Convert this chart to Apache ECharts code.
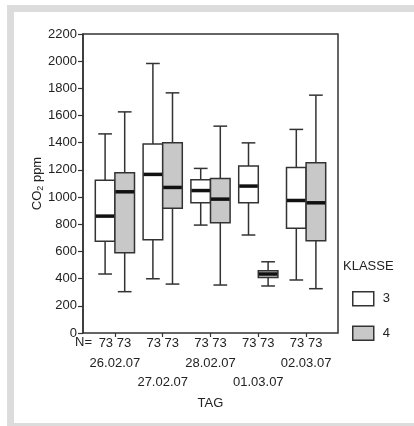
<!DOCTYPE html>
<html>
<head>
<meta charset="utf-8">
<script src="https://cdn.jsdelivr.net/npm/echarts@6/dist/echarts.min.js"></script>
<style>
html,body{margin:0;padding:0;background:#fff;}
#c{width:414px;height:426px;}
</style>
</head>
<body>
<div id="c"></div>
<script>
const categories = ['26.02.07','27.02.07','28.02.07','01.03.07','02.03.07'];
const countsK3 = [73,73,73,73,73];
const countsK4 = [73,73,73,73,73];
// [min, Q1, median, Q3, max]
const klasse3 = [
  [434, 676, 860, 1123, 1465],
  [399, 686, 1167, 1390, 1983],
  [794, 958, 1048, 1128, 1211],
  [721, 958, 1081, 1228, 1399],
  [390, 770, 975, 1218, 1498]
];
const klasse4 = [
  [304, 590, 1039, 1179, 1627],
  [360, 917, 1071, 1399, 1767],
  [353, 811, 985, 1137, 1522],
  [346, 409, 434, 458, 524],
  [326, 679, 958, 1252, 1750]
];
const yTicks = {min: 0, max: 2200, interval: 200};

const FONT = 'Liberation Sans, Arial, sans-serif';
const LINE = '#333';
const TXT = '#222';

function makeRender(side) {
  return function (params, api) {
    const cat = api.value(0);
    const band = api.size([1, 0])[0];
    const boxW = band * 0.41;
    const center = api.coord([cat, 0])[0] + side * boxW / 2;
    const capW = boxW * 0.7;
    const yMin = api.coord([cat, api.value(1)])[1];
    const yQ1 = api.coord([cat, api.value(2)])[1];
    const yMed = api.coord([cat, api.value(3)])[1];
    const yQ3 = api.coord([cat, api.value(4)])[1];
    const yMax = api.coord([cat, api.value(5)])[1];
    const fill = api.visual('color');
    const ls = {stroke: LINE, lineWidth: 1.5, fill: null};
    return {
      type: 'group',
      children: [
        {type: 'line', shape: {x1: center, y1: yQ3, x2: center, y2: yMax}, style: ls},
        {type: 'line', shape: {x1: center - capW / 2, y1: yMax, x2: center + capW / 2, y2: yMax}, style: ls},
        {type: 'line', shape: {x1: center, y1: yQ1, x2: center, y2: yMin}, style: ls},
        {type: 'line', shape: {x1: center - capW / 2, y1: yMin, x2: center + capW / 2, y2: yMin}, style: ls},
        {type: 'rect', shape: {x: center - boxW / 2, y: yQ3, width: boxW, height: yQ1 - yQ3},
          style: {fill: fill, stroke: LINE, lineWidth: 1.5}},
        {type: 'line', shape: {x1: center - boxW / 2 + 0.5, y1: yMed, x2: center + boxW / 2 - 0.5, y2: yMed},
          style: {stroke: '#111', lineWidth: 3.5}}
      ]
    };
  };
}

const chart = echarts.init(document.getElementById('c'), null, {renderer: 'canvas'});
chart.setOption({
  animation: false,
  backgroundColor: '#fff',
  textStyle: {fontFamily: FONT},
  graphic: [
    {type: 'rect', shape: {x: 7, y: 5, width: 407, height: 7}, style: {fill: '#dcdcdc'}, silent: true},
    {type: 'rect', shape: {x: 7, y: 5, width: 7, height: 421}, style: {fill: '#dcdcdc'}, silent: true},
    {type: 'rect', shape: {x: 7, y: 423, width: 407, height: 3}, style: {fill: '#dcdcdc'}, silent: true},
    {type: 'text', left: 75, top: 336, style: {text: 'N=', font: '13px ' + FONT, fill: TXT}},
    {type: 'text', left: 343, top: 260, style: {text: 'KLASSE', font: '13px ' + FONT, fill: TXT}}
  ],
  grid: [
    {left: 83, right: 76, top: 34, bottom: 93, show: true, borderColor: LINE, borderWidth: 1.5, backgroundColor: 'transparent'},
    {left: 91, right: 84, top: 34, bottom: 93}
  ],
  xAxis: [
    {gridIndex: 0, type: 'value', min: 0, max: 1, show: false},
    {
      gridIndex: 1, type: 'category', data: categories,
      axisLine: {show: false},
      axisTick: {show: true, alignWithLabel: true, length: 4, lineStyle: {color: LINE, width: 1.2}},
      axisLabel: {
        interval: 0, margin: 1, fontSize: 13, color: TXT, lineHeight: 19.5, fontFamily: FONT,
        formatter: function (v, i) {
          const n = countsK3[i] + ' ' + countsK4[i];
          return i % 2 === 0 ? n + '\n' + v : n + '\n\n' + v;
        }
      },
      name: 'TAG', nameLocation: 'middle', nameGap: 62,
      nameTextStyle: {fontSize: 13, color: TXT, fontFamily: FONT}
    }
  ],
  yAxis: [
    {
      gridIndex: 0, type: 'value', min: yTicks.min, max: yTicks.max, interval: yTicks.interval,
      splitLine: {show: false},
      axisLine: {show: true, lineStyle: {color: LINE, width: 1.5}},
      axisTick: {show: true, length: 5, lineStyle: {color: LINE, width: 1.2}},
      axisLabel: {fontSize: 13, color: TXT, margin: 6, fontFamily: FONT, formatter: function (v) { return String(v); }},
      name: 'CO{sub|2} ppm', nameLocation: 'middle', nameGap: 38, nameMoveOverlap: false,
      nameTextStyle: {
        fontSize: 13, color: TXT, fontFamily: FONT,
        rich: {sub: {fontSize: 9, color: TXT, fontFamily: FONT, padding: [7, 0, 0, 0]}}
      }
    },
    {gridIndex: 1, type: 'value', min: yTicks.min, max: yTicks.max, show: false}
  ],
  legend: {
    orient: 'vertical', left: 347, top: 286,
    itemWidth: 21, itemHeight: 14, itemGap: 19,
    textStyle: {fontSize: 13, color: TXT, fontFamily: FONT, padding: [0, 0, 0, 4]},
    data: [
      {name: '3', icon: 'rect', itemStyle: {color: '#ffffff', borderColor: LINE, borderWidth: 1.5}},
      {name: '4', icon: 'rect', itemStyle: {color: '#c8c8c8', borderColor: LINE, borderWidth: 1.5}}
    ]
  },
  series: [
    {
      name: '3', type: 'custom', xAxisIndex: 1, yAxisIndex: 1,
      itemStyle: {color: '#ffffff'},
      renderItem: makeRender(-1),
      encode: {x: 0, y: [1, 2, 3, 4, 5]},
      data: klasse3.map((d, i) => [i].concat(d))
    },
    {
      name: '4', type: 'custom', xAxisIndex: 1, yAxisIndex: 1,
      itemStyle: {color: '#c8c8c8'},
      renderItem: makeRender(1),
      encode: {x: 0, y: [1, 2, 3, 4, 5]},
      data: klasse4.map((d, i) => [i].concat(d))
    }
  ]
});
</script>
</body>
</html>
